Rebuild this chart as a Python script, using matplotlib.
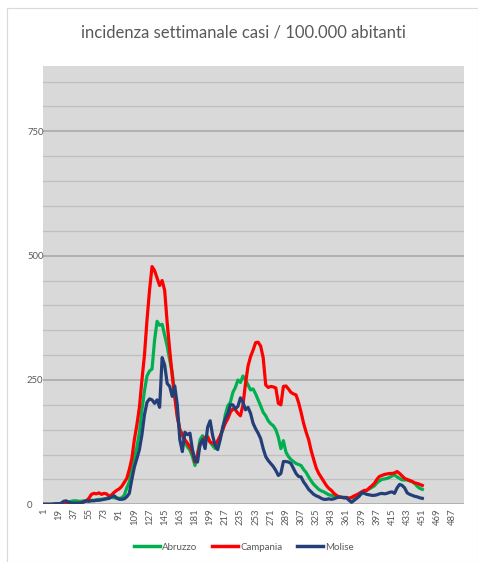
import matplotlib
matplotlib.use("Agg")
import matplotlib.pyplot as plt
from matplotlib.patches import Rectangle

days = list(range(1, 452, 3))

abruzzo = [0,0,0,0,1,1,1,2,2,3,5,6,7,7,6,6,7,7,7,8,8,9,10,10,11,12,13,14,13,12,12,13,18,33,45,70,95,115,145,190,
           228,258,268,272,330,368,360,362,340,318,290,265,220,180,150,140,125,115,109,96,78,100,130,138,128,132,125,118,112,122,
           135,150,180,198,205,225,235,250,245,258,250,240,230,232,222,210,198,185,178,168,162,158,150,135,112,128,105,96,90,86,
           82,80,78,70,64,55,47,40,35,30,27,25,22,19,18,16,15,14,14,13,13,12,13,14,16,18,21,25,28,31,
           34,37,43,47,50,51,52,54,57,59,55,52,49,49,49,47,45,42,36,32,30]

campania = [0,0,0,0,0,1,1,1,1,1,1,1,2,2,2,3,5,7,12,20,22,21,23,20,22,21,16,19,24,28,31,36,44,52,70,92,130,160,195,250,
            300,370,430,478,470,455,440,450,430,365,310,258,215,175,150,140,130,123,115,105,85,100,120,128,135,136,125,123,120,128,
            138,150,163,172,185,192,190,183,178,200,243,278,297,310,325,326,318,295,240,235,237,236,234,203,200,237,238,232,225,222,
            220,205,185,163,145,130,108,90,73,62,54,46,38,32,28,22,18,15,14,13,14,12,14,17,19,22,25,28,28,33,
            37,42,50,56,58,60,61,62,62,63,66,62,57,52,50,48,46,43,42,40,38]

molise = [0,0,0,0,0,1,1,2,6,7,4,3,2,2,2,3,5,7,6,7,7,8,8,9,10,11,12,15,17,13,10,10,11,15,22,50,75,92,110,140,
          180,205,212,210,203,210,195,295,280,243,237,217,238,200,130,106,145,140,143,110,88,85,120,130,112,155,168,138,118,110,
          130,156,172,182,200,200,192,197,214,205,190,195,183,163,152,143,132,112,96,88,82,76,68,58,62,86,86,85,82,72,
          62,56,55,45,38,30,25,20,17,15,12,10,10,11,10,11,13,15,14,14,13,8,4,8,12,16,24,22,20,19,
          18,18,19,21,22,21,22,24,25,22,33,40,38,33,23,20,18,16,15,13,12]

series_names = ["Abruzzo", "Campania", "Molise"]
series_values = [abruzzo, campania, molise]
series_colors = ["#00B050", "#FF0000", "#243F78"]

x_tick_values = list(range(1, 488, 18))
x_tick_labels = [str(v) for v in x_tick_values]
y_tick_values = [0, 250, 500, 750]

plt.rcParams['font.family'] = ['Lato', 'DejaVu Sans']

W, H = 478, 562
fig = plt.figure(figsize=(W / 100, H / 100), dpi=100)

# outer chart border
fig.patches.append(Rectangle((7 / W, 0), (W - 7.5) / W, (H - 8) / H, transform=fig.transFigure,
                             fill=False, edgecolor="#D9D9D9", linewidth=0.8))

ax = fig.add_axes([43 / W, 1 - 504.3 / H, (464 - 43) / W, (504.3 - 65.7) / H])
ax.set_facecolor("#D9D9D9")
for s in ax.spines.values():
    s.set_visible(False)

ax.set_xlim(0.5, 500.5)
ax.set_ylim(0, 882)

for v in range(50, 882, 50):
    if v % 250 != 0:
        ax.axhline(v, color="#BFBFBF", linewidth=0.9, zorder=1)
for v in range(0, 882, 250):
    ax.axhline(v, color="#A6A6A6", linewidth=1.1, zorder=1)

for name, vals, col in zip(series_names, series_values, series_colors):
    ax.plot(days, vals, color=col, linewidth=2.3, label=name, zorder=3, solid_joinstyle="round")

ax.set_yticks(y_tick_values)
ax.set_yticklabels([str(v) for v in y_tick_values])
ax.set_xticks(x_tick_values)
ax.set_xticklabels(x_tick_labels, rotation=90)
ax.tick_params(axis="y", length=0, pad=11.5, labelsize=6.8, labelcolor="#595959")
for lbl in ax.get_yticklabels():
    lbl.set_horizontalalignment("left")
ax.tick_params(axis="x", length=0, pad=3, labelsize=6.8, labelcolor="#595959")

fig.text(243 / W, 1 - 33 / H, "incidenza settimanale casi / 100.000 abitanti",
         ha="center", va="center", fontsize=12, color="#595959")

leg = fig.legend(loc="center", bbox_to_anchor=(244 / W, 1 - 547 / H), ncol=3, frameon=False,
                 fontsize=7, handlelength=2.7, handletextpad=0.2, columnspacing=1.5,
                 labelcolor="#595959")
for h in leg.get_lines():
    h.set_linewidth(2.5)

fig.savefig("out.png", dpi=100)
